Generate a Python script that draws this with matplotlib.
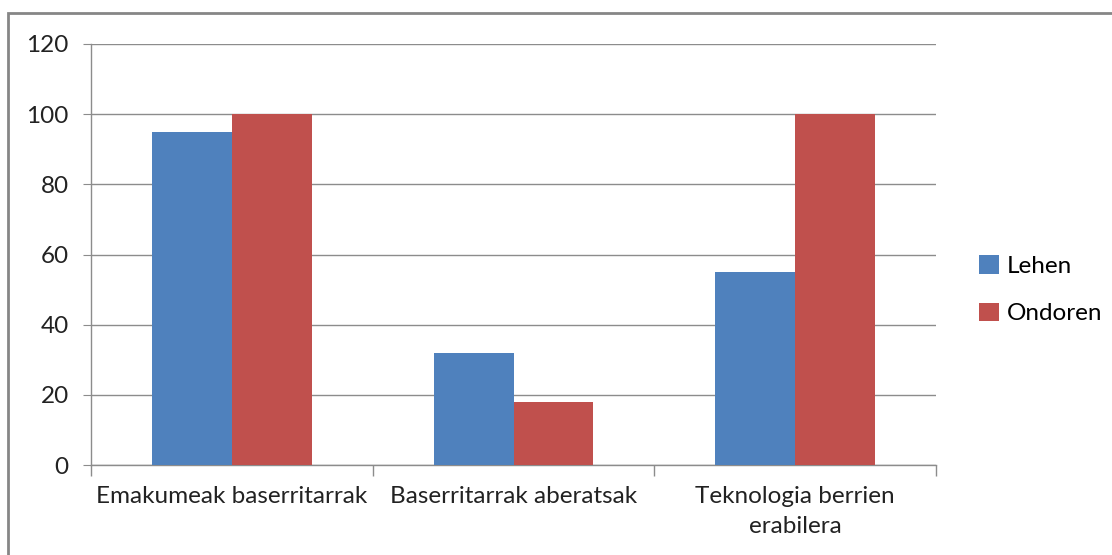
import matplotlib.pyplot as plt
import numpy as np
from matplotlib.patches import Rectangle

categories = ["Emakumeak baserritarrak", "Baserritarrak aberatsak", "Teknologia berrien\nerabilera"]
lehen = [95, 32, 55]
ondoren = [100, 18, 100]
series_names = ["Lehen", "Ondoren"]
yticks = [0, 20, 40, 60, 80, 100, 120]

plt.rcParams['font.family'] = ['Lato', 'DejaVu Sans']
fs = 17.5

fig = plt.figure(figsize=(11.12, 5.55), dpi=100)
ax = fig.add_axes([91 / 1112, 1 - 465 / 555, 845 / 1112, 421 / 555])

# Outer chart frame
fig.patches.append(Rectangle((8 / 1112, -0.05), 1.2, 1 - 13 / 555 + 0.05,
                             transform=fig.transFigure, fill=False,
                             edgecolor="#868686", linewidth=2))

x = np.arange(len(categories))
w = 0.284
ax.bar(x - w / 2, lehen, w, color="#4F81BD", label=series_names[0], zorder=3)
ax.bar(x + w / 2, ondoren, w, color="#C0504D", label=series_names[1], zorder=3)

ax.set_xlim(-0.5, len(categories) - 0.5)
ax.set_ylim(0, 120)
ax.set_yticks(yticks)
ax.yaxis.grid(True, color="#8c8c8c", linewidth=1)
ax.set_axisbelow(True)

ax.set_xticks(x)
ax.set_xticklabels(categories, fontsize=fs, color="#222222", linespacing=1.55)
ax.set_xticks(np.arange(len(categories) + 1) - 0.5, minor=True)
ax.tick_params(axis="x", which="major", length=0, pad=15)
ax.tick_params(axis="x", which="minor", length=8, color="#8c8c8c", width=1)
ax.tick_params(axis="y", length=6, color="#8c8c8c", labelsize=fs, pad=10, labelcolor="#222222")

for s in ["top", "right"]:
    ax.spines[s].set_visible(False)
for s in ["left", "bottom"]:
    ax.spines[s].set_color("#8c8c8c")
    ax.spines[s].set_linewidth(1)

ax.legend(loc="center left", bbox_to_anchor=(1.051, 0.416), frameon=False,
          fontsize=fs, handlelength=0.8, handleheight=0.8, handletextpad=0.35,
          labelspacing=1.05, borderpad=0, borderaxespad=0)

fig.savefig("out.png", dpi=100)
